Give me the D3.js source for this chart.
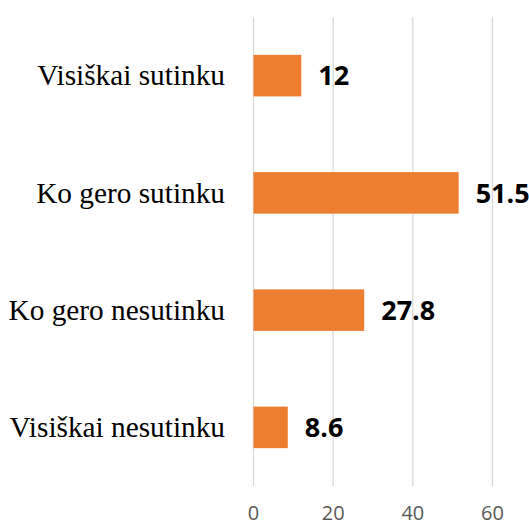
<!DOCTYPE html>
<html>
<head>
<meta charset="utf-8">
<script src="https://cdn.jsdelivr.net/npm/d3@7"></script>
<style>
  html, body { margin: 0; padding: 0; background: #fff; }
  svg { display: block; }
</style>
</head>
<body>
<svg id="chart" width="529" height="525"></svg>
<script>
var categories = ["Visiškai sutinku", "Ko gero sutinku", "Ko gero nesutinku", "Visiškai nesutinku"];
var values = [12, 51.5, 27.8, 8.6];
var ticks = [0, 20, 40, 60];

var svg = d3.select("#chart"),
    width = +svg.attr("width"),
    height = +svg.attr("height");

var x = d3.scaleLinear()
    .domain([0, 60])
    .range([253.5, 492.5]);

var y = d3.scaleBand()
    .domain(categories)
    .range([17, 486])
    .paddingInner(0.646)
    .paddingOuter(0.323);

// gridlines
svg.append("g")
    .selectAll("line")
    .data(ticks)
    .enter().append("line")
    .attr("x1", function(d) { return x(d); })
    .attr("x2", function(d) { return x(d); })
    .attr("y1", 17)
    .attr("y2", 486)
    .attr("stroke", "#d9d9d9")
    .attr("stroke-width", 1.3);

// tick labels
svg.append("g")
    .selectAll("text")
    .data(ticks)
    .enter().append("text")
    .attr("x", function(d) { return x(d); })
    .attr("y", 520)
    .attr("text-anchor", "middle")
    .style("font-family", "'Open Sans', sans-serif")
    .style("font-size", "20px")
    .style("fill", "#595959")
    .text(function(d) { return d; });

// bars
svg.append("g")
    .selectAll("rect")
    .data(values)
    .enter().append("rect")
    .attr("x", x(0))
    .attr("y", function(d, i) { return y(categories[i]); })
    .attr("width", function(d) { return x(d) - x(0); })
    .attr("height", y.bandwidth())
    .attr("fill", "#ED7D31");

// value labels
svg.append("g")
    .selectAll("text")
    .data(values)
    .enter().append("text")
    .attr("x", function(d) { return x(d) + 17; })
    .attr("y", function(d, i) { return y(categories[i]) + y.bandwidth() / 2; })
    .attr("dy", "0.36em")
    .style("font-family", "'Open Sans', sans-serif")
    .style("font-weight", "700")
    .style("font-size", "27px")
    .style("fill", "#000")
    .text(function(d) { return d; });

// category labels
svg.append("g")
    .selectAll("text")
    .data(categories)
    .enter().append("text")
    .attr("x", 225)
    .attr("y", function(d) { return y(d) + y.bandwidth() / 2; })
    .attr("dy", "0.33em")
    .attr("text-anchor", "end")
    .style("font-family", "'Liberation Serif', 'Times New Roman', serif")
    .style("font-size", "29.3px")
    .style("fill", "#000")
    .text(function(d) { return d; });
</script>
</body>
</html>
